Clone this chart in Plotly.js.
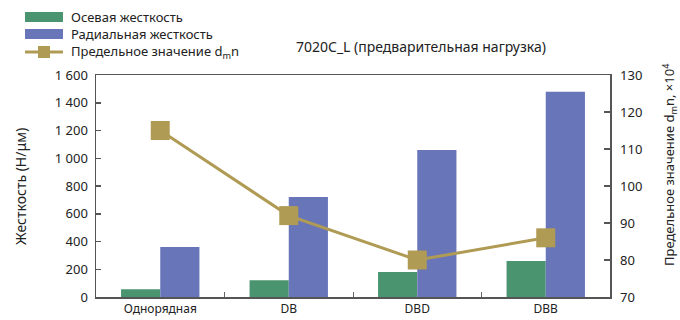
<!DOCTYPE html>
<html>
<head>
<meta charset="utf-8">
<script src="https://cdn.plot.ly/plotly-3.0.1.min.js"></script>
<style>
html,body{margin:0;padding:0;background:#fff;}
#chart{width:680px;height:320px;}
</style>
</head>
<body>
<div id="chart"></div>
<script>
const categories = ["Однорядная", "DB", "DBD", "DBB"];
const axialStiffness = [55, 120, 180, 260];
const radialStiffness = [360, 720, 1060, 1480];
const limitDmn = [115, 92, 80, 86];
const leftTickVals = [0, 200, 400, 600, 800, 1000, 1200, 1400, 1600];
const leftTickText = ["0", "200", "400", "600", "800", "1 000", "1 200", "1 400", "1 600"];
const rightTickVals = [70, 80, 90, 100, 110, 120, 130];

const seriesNames = ["Осевая жесткость", "Радиальная жесткость", "Предельное значение d<sub>m</sub>n"];
const chartTitle = "7020C_L (предварительная нагрузка)";
const leftTitle = "Жесткость (Н/μм)";
const rightTitle = "Предельное значение d<sub>m</sub>n, ×10<sup>4</sup>";

const cGreen = "#4a9470", cBlue = "#6875b8", cGold = "#b09b55";
const FONT = "Noto Sans, Open Sans, sans-serif";

const traces = [
  {type: "bar", x: categories, y: axialStiffness, name: seriesNames[0], marker: {color: cGreen}, hoverinfo: "skip"},
  {type: "bar", x: categories, y: radialStiffness, name: seriesNames[1], marker: {color: cBlue}, hoverinfo: "skip"},
  {type: "scatter", mode: "lines+markers", x: categories, y: limitDmn, name: seriesNames[2], yaxis: "y2",
   line: {color: cGold, width: 3}, marker: {symbol: "square", size: 19, color: cGold}, hoverinfo: "skip"}
];

const L = 96, R = 610, T = 75, B = 297, PW = R - L, PH = B - T;
const px = v => (v - L) / PW;
const py = v => (B - v) / PH;

const shapes = [
  {type: "rect", xref: "paper", yref: "paper", x0: px(25), x1: px(63), y0: py(22), y1: py(12), fillcolor: cGreen, line: {width: 0}},
  {type: "rect", xref: "paper", yref: "paper", x0: px(25), x1: px(63), y0: py(39), y1: py(29), fillcolor: cBlue, line: {width: 0}},
  {type: "line", xref: "paper", yref: "paper", x0: px(25), x1: px(63), y0: py(52), y1: py(52), line: {color: cGold, width: 3}},
  {type: "rect", xref: "paper", yref: "paper", x0: px(38), x1: px(50), y0: py(58), y1: py(46), fillcolor: cGold, line: {width: 0}}
];

const annFont = {family: FONT, size: 13, color: "#222"};
const annotations = [
  {xref: "paper", yref: "paper", x: px(70), y: py(17), xanchor: "left", yanchor: "middle", text: seriesNames[0], showarrow: false, font: annFont, borderpad: 0},
  {xref: "paper", yref: "paper", x: px(70), y: py(34), xanchor: "left", yanchor: "middle", text: seriesNames[1], showarrow: false, font: annFont, borderpad: 0},
  {xref: "paper", yref: "paper", x: px(70), y: py(52), xanchor: "left", yanchor: "middle", text: seriesNames[2], showarrow: false, font: annFont, borderpad: 0},
  {xref: "paper", yref: "paper", x: px(421), y: py(46), xanchor: "center", yanchor: "middle", text: chartTitle, showarrow: false, font: {family: FONT, size: 14, color: "#222"}},
  {xref: "paper", yref: "paper", x: px(20), y: py(187), xanchor: "center", yanchor: "middle", textangle: -90, text: leftTitle, showarrow: false, font: {family: FONT, size: 14, color: "#222"}},
  {xref: "paper", yref: "paper", x: px(669), y: py(165), xanchor: "center", yanchor: "middle", textangle: -90, text: rightTitle, showarrow: false, font: {family: FONT, size: 13, color: "#222"}}
];

const layout = {
  width: 680, height: 320,
  margin: {l: L, r: 680 - R, t: T, b: 320 - B, pad: 0},
  paper_bgcolor: "#fff", plot_bgcolor: "#fff",
  showlegend: false,
  barmode: "group", bargap: 0.39, bargroupgap: 0,
  font: {family: FONT, size: 13, color: "#222"},
  xaxis: {
    type: "category", showline: true, linecolor: "#555", linewidth: 1.5, mirror: true,
    showgrid: false, zeroline: false, ticks: "inside", tickson: "boundaries", ticklen: 5, tickcolor: "#666", tickwidth: 1,
    tickfont: {family: FONT, size: 12, color: "#222"}, fixedrange: true
  },
  yaxis: {
    range: [0, 1600], tickvals: leftTickVals, ticktext: leftTickText,
    showline: true, linecolor: "#555", linewidth: 1.5, showgrid: false, zeroline: false,
    ticks: "inside", ticklen: 5, tickcolor: "#555", tickwidth: 1.5, ticklabelstandoff: 4,
    tickfont: {family: FONT, size: 13, color: "#222"}, fixedrange: true
  },
  yaxis2: {
    overlaying: "y", side: "right", range: [70, 130], tickvals: rightTickVals,
    showline: true, linecolor: "#555", linewidth: 1.5, showgrid: false, zeroline: false,
    ticks: "inside", ticklen: 6, tickcolor: "#555", tickwidth: 1.5, ticklabelstandoff: 6,
    tickfont: {family: FONT, size: 13, color: "#222"}, fixedrange: true
  },
  shapes: shapes,
  annotations: annotations
};

Plotly.newPlot("chart", traces, layout, {displayModeBar: false, staticPlot: true});
</script>
</body>
</html>
